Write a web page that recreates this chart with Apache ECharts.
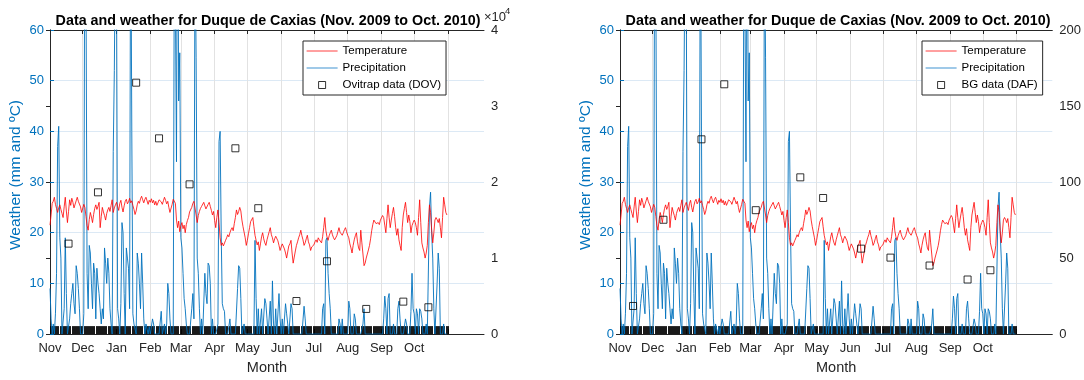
<!DOCTYPE html>
<html><head><meta charset="utf-8">
<script src="https://cdn.jsdelivr.net/npm/echarts@6/dist/echarts.min.js"></script>
<style>html,body{margin:0;padding:0;background:#fff}#c{width:1084px;height:380px}</style>
</head><body><div id="c"></div>
<script>
// ---- data ----
const monthLabels = ['Nov','Dec','Jan','Feb','Mar','Apr','May','Jun','Jul','Aug','Sep','Oct'];
const monthStartDays = [0,30,61,92,120,151,181,212,242,273,304,334];
const gridLineDays = [0,30,61,92,120,151,181,212,242,273,304,334,365];
const axisMaxDay = 398;

// daily temperature (ºC), Nov 1 2009 .. Oct 31 2010
const tempNov = [21.5,23.5,25.8,26.2,27.0,25.6,24.8,24.0,24.9,25.5,24.6,23.8,23.0,25.1,27.0,24.3,22.0,24.2,26.5,25.4,26.8,26.0,24.9,25.0,26.3,27.0,26.2,26.0,25.1,24.0];
const tempDec = [24.3,25.6,25.0,23.2,21.4,20.5,22.6,24.0,23.1,22.0,23.6,24.8,25.5,24.6,25.2,26.0,21.0,23.2,25.0,24.1,23.4,22.5,23.8,24.5,25.0,24.2,25.4,26.5,24.0,24.9,25.5];
const tempJan = [26.0,25.2,24.4,25.8,26.4,25.0,24.1,25.3,26.2,26.6,25.7,26.1,26.8,25.9,26.3,25.4,24.6,23.6,24.3,25.5,26.2,25.8,26.7,27.2,26.5,25.9,26.6,27.0,26.3,25.6,26.4];
const tempFeb = [26.0,26.7,25.9,26.4,25.5,26.2,25.4,25.9,26.5,26.8,26.1,25.6,26.3,27.0,26.4,25.7,26.2,25.0,24.0,24.3,25.6,26.6,26.4,25.8,22.5,21.0,22.3,20.2];
const tempMar = [21.4,22.0,20.8,21.5,20.0,21.6,22.4,23.0,24.1,23.8,25.0,25.8,26.2,26.5,23.5,22.0,23.4,24.2,24.8,25.2,25.5,26.0,25.3,24.7,25.0,25.6,26.0,25.2,24.4,23.5,24.2];
const tempApr = [22.4,21.0,23.0,24.5,22.0,19.0,17.5,18.0,17.4,17.6,18.5,19.0,19.6,19.2,20.0,20.6,21.0,20.4,21.8,23.0,24.5,23.6,24.2,25.0,24.3,22.5,21.2,21.5,19.0,17.5];
const tempMay = [18.5,19.8,21.0,22.2,22.0,23.0,21.2,19.5,18.5,17.6,18.2,16.5,17.8,19.2,20.0,18.8,18.0,17.5,18.6,19.4,20.2,21.0,19.6,19.0,18.0,18.8,19.3,19.5,18.4,17.5,16.5];
const tempJun = [17.2,17.8,18.0,16.8,16.0,15.0,16.2,17.4,17.8,18.5,16.0,14.0,15.2,16.4,17.5,18.2,19.0,19.6,20.5,19.4,18.6,17.5,18.0,18.8,19.5,18.2,17.6,16.5,17.2,17.5];
const tempJul = [17.6,18.2,18.6,18.1,19.0,18.6,18.3,18.0,19.2,21.0,23.0,20.4,19.2,18.5,19.4,20.0,20.5,19.6,19.0,18.6,18.5,19.4,20.2,21.0,20.1,19.8,19.5,20.0,20.6,21.0,20.2];
const tempAug = [19.5,19.0,17.8,17.0,16.0,17.5,18.6,19.4,20.0,18.2,17.0,16.5,20.5,18.0,15.8,13.5,14.0,15.0,15.8,16.6,17.5,18.8,20.4,21.6,22.5,22.8,21.8,21.5,22.0,21.6,22.5];
const tempSep = [22.8,23.4,23.0,21.5,20.0,22.8,25.5,23.0,21.0,22.5,23.8,25.0,23.2,21.0,19.5,20.8,18.6,17.5,16.5,21.0,23.5,24.8,26.0,24.0,22.0,23.5,22.2,20.0,21.4,22.0];
const tempOct = [22.5,22.0,21.0,19.5,23.0,26.5,22.0,18.0,17.0,16.2,15.0,16.0,17.5,22.0,25.5,24.0,20.5,18.0,20.0,22.5,23.0,22.6,22.0,22.8,21.0,19.0,23.0,27.0,25.5,24.0,23.5];

// daily precipitation (mm)
const rainNov = [9,3,0,2,0,4,12,37,41,19,15,0,0,5,19,8,0,0,3,6,8,10,6,4,13.5,12,9,5,0,0];
const rainDec = [0,4,95,70,12,5,17.5,16,10,5,14,12,3,13,10,8,5,2,5,3,17,14,10,15,12,5,2,0,36,52,80];
const rainJan = [70,5,3,0,6,22,20,8,0,17,15,13,5,90,40,4,2,1,0,16,14,10,5,16,10,3,0,2,1,0,1.5];
const rainFeb = [0,0,3,2,0,0,0,0,0,0,4.5,0,0,2,0,2,10,8,3,0,0,0,75,65,34,100,46,55.5];
const rainMar = [19,17,12,7,5,2,0,0,0,0,5,8,3,80,54.5,15,12,5,0,3,0,0,12,8,6,14,13.5,10,0,3,0];
const rainApr = [0,0,0,2,38,40,20,6,5,4.5,0,0,0,0,3,0,0,0,0,0,0,9,13.5,13,7,0,0,2,0,0];
const rainMay = [0,0,0,0,0,0,0,18.5,7,0,5,0,0,5,0,0,7,6,3,0,0,6.5,0,10.5,2,0,5,0,0,8,3];
const rainJun = [0,3,0,0,6,4,2,0,0,6,5,0,0,0,0,0,0,0,0,0,0,5.5,3,0,0,0,0,0,0,0];
const rainJul = [0,0,0,0,0,0,0,0,5,6,0,18.5,19,12,8,5,0,0,0,0,0,0,0,3,2,0,3,0,0,0,0];
const rainAug = [0,6.5,5,0,0,0,4,3,0,0,0,0,0,0,2,5,0,0,0,0,0,0,0,0,0,0,0,0,0,0,0];
const rainSep = [0,0,3,7.5,5,0,7,8,0,0,0,2,0,0,0,5,6.5,3,0,0,0,0,3,2,0,0,0,4.5,12,5];
const rainOct = [4,0,5,4,0,5,4.5,3,0,0,0,2,0,0,25,28,20,15,5,0,0,10,16,13,0,0,0,2,0,0,0];

// trap data (day index from Nov 1 2009, value)
const ovitrapDays = [17,44,79,100,128,170,191,226,254,290,324,347];
const ovitrapValues = [11900,18650,33070,25750,19700,24440,16560,4350,9580,3310,4270,3530];
const bgDays = [12,40,75,96,125,166,187,222,249,285,320,341];
const bgValues = [18.5,75.2,128.1,164.3,81.5,103.1,89.5,56.2,50.3,45.1,35.9,42.0];

// ---- chart ----
const temperature = [].concat(tempNov,tempDec,tempJan,tempFeb,tempMar,tempApr,tempMay,tempJun,tempJul,tempAug,tempSep,tempOct);
const precipitation = [].concat(rainNov,rainDec,rainJan,rainFeb,rainMar,rainApr,rainMay,rainJun,rainJul,rainAug,rainSep,rainOct);
const dailyTicks = precipitation.map((_, i) => i).concat([precipitation.length]);

const FONT = '"Liberation Sans", Arial, Helvetica, sans-serif';
const BLUE = '#0072BD', DARK = '#262626';
const TITLE = 'Data and weather for Duque de Caxias (Nov. 2009 to Oct. 2010)';
const GRID_TOP = 30, GRID_H = 318, GRID_W = 434;

const panels = [
  {left: 50, legendLeft: 303, markerName: 'Ovitrap data (DOV)', mDays: ovitrapDays, mVals: ovitrapValues,
   rMax: 40000, rInt: 10000, rFmt: v => String(v / 10000), exponent: true},
  {left: 620, legendLeft: 922, markerName: 'BG data (DAF)', mDays: bgDays, mVals: bgValues,
   rMax: 200, rInt: 50, rFmt: v => String(v), exponent: false}
];

const option = {animation: false, backgroundColor: '#fff', title: [], grid: [], xAxis: [], yAxis: [], series: [], legend: [], graphic: []};

panels.forEach((p, k) => {
  option.grid.push({left: p.left, top: GRID_TOP, width: GRID_W, height: GRID_H, containLabel: false});
  option.title.push({text: TITLE, left: p.left + GRID_W / 2 - 4, top: 9, textAlign: 'center',
    textStyle: {fontFamily: FONT, fontSize: 14.3, fontWeight: 'bold', color: '#000'}});
  if (p.exponent) {
    option.graphic.push({type: 'text', left: p.left + GRID_W, top: 11, silent: true,
      style: {text: '×10', fontFamily: FONT, fontSize: 13, fill: DARK}});
    option.graphic.push({type: 'text', left: p.left + GRID_W + 21, top: 6, silent: true,
      style: {text: '4', fontFamily: FONT, fontSize: 9.5, fill: DARK}});
  }
  // main x axis
  option.xAxis.push({gridIndex: k, type: 'value', min: 0, max: axisMaxDay, position: 'bottom',
    name: 'Month', nameLocation: 'middle', nameGap: 24,
    nameTextStyle: {fontFamily: FONT, fontSize: 14.5, color: DARK},
    axisLine: {show: true, lineStyle: {color: DARK, width: 1}},
    axisTick: {show: true, inside: true, length: 5, customValues: gridLineDays, lineStyle: {color: DARK}},
    axisLabel: {show: true, customValues: monthStartDays, margin: 8, fontFamily: FONT, fontSize: 13, color: DARK,
      formatter: v => monthLabels[monthStartDays.indexOf(v)] || ''},
    splitLine: {show: true, lineStyle: {color: '#e2e2e2', width: 1}}
  });
  // dense daily tick band
  option.xAxis.push({gridIndex: k, type: 'value', min: 0, max: axisMaxDay, position: 'bottom', offset: 4,
    axisLine: {show: false}, axisLabel: {show: false}, splitLine: {show: false},
    axisTick: {show: true, inside: true, length: 8, customValues: dailyTicks, lineStyle: {color: '#000', width: 0.9}}
  });
  // top box line
  option.xAxis.push({gridIndex: k, type: 'value', min: 0, max: axisMaxDay, position: 'top',
    axisLine: {show: true, lineStyle: {color: DARK, width: 1}}, axisLabel: {show: false}, splitLine: {show: false},
    axisTick: {show: true, inside: true, length: 4, customValues: gridLineDays, lineStyle: {color: DARK}}
  });
  // left y axis (weather)
  option.yAxis.push({gridIndex: k, type: 'value', min: 0, max: 60, interval: 10, position: 'left',
    name: 'Weather (mm and ºC)', nameLocation: 'middle', nameGap: 26,
    nameTextStyle: {fontFamily: FONT, fontSize: 15.5, color: BLUE, padding: [0, 0, 0, 14]},
    axisLine: {show: true, lineStyle: {color: BLUE, width: 1}},
    axisTick: {show: true, inside: true, length: 4, lineStyle: {color: BLUE}},
    axisLabel: {margin: 6, fontFamily: FONT, fontSize: 13, color: BLUE},
    splitLine: {show: true, lineStyle: {color: '#dce9f5', width: 1}}
  });
  // right y axis (trap data)
  option.yAxis.push({gridIndex: k, type: 'value', min: 0, max: p.rMax, interval: p.rInt, position: 'right',
    axisLine: {show: true, lineStyle: {color: DARK, width: 1}},
    axisTick: {show: true, inside: true, length: 4, lineStyle: {color: DARK}},
    axisLabel: {margin: 7, fontFamily: FONT, fontSize: 13, color: DARK, formatter: p.rFmt},
    splitLine: {show: false}
  });
  const xi = k * 3, yi = k * 2;
  option.series.push({name: 'Precipitation', type: 'line', xAxisIndex: xi, yAxisIndex: yi,
    data: precipitation.map((v, i) => [i, v]), symbol: 'none', clip: true,
    lineStyle: {color: BLUE, width: 0.9}, itemStyle: {color: BLUE}, z: 2});
  option.series.push({name: 'Temperature', type: 'line', xAxisIndex: xi, yAxisIndex: yi,
    data: temperature.map((v, i) => [i, v]), symbol: 'none', clip: true,
    lineStyle: {color: '#ff0000', width: 0.8}, itemStyle: {color: '#ff0000'}, z: 3});
  option.series.push({name: p.markerName, type: 'scatter', xAxisIndex: xi, yAxisIndex: yi + 1,
    data: p.mDays.map((d, i) => [d, p.mVals[i]]), symbol: 'rect', symbolSize: 7,
    itemStyle: {color: 'rgba(255,255,255,0)', borderColor: '#000', borderWidth: 1}, z: 4});
  option.legend.push({orient: 'vertical', left: p.legendLeft, top: 41, itemWidth: 31, itemHeight: 7, itemGap: 5,
    padding: [4, 5, 4, 3], borderColor: DARK, borderWidth: 1, backgroundColor: '#fff', borderRadius: 0,
    selectedMode: false,
    textStyle: {fontFamily: FONT, fontSize: 11.5, color: '#000'},
    data: [
      {name: 'Temperature', itemStyle: {opacity: 0}, lineStyle: {color: '#ff4040', width: 1}},
      {name: 'Precipitation', itemStyle: {opacity: 0}, lineStyle: {color: '#5fa4d8', width: 1.2}},
      {name: p.markerName, icon: 'path://M0,0L7,0L7,7L0,7Z',
       itemStyle: {color: 'rgba(255,255,255,0)', borderColor: '#000', borderWidth: 1}}]});
});

const chart = echarts.init(document.getElementById('c'), null, {renderer: 'canvas'});
chart.setOption(option);
</script></body></html>
